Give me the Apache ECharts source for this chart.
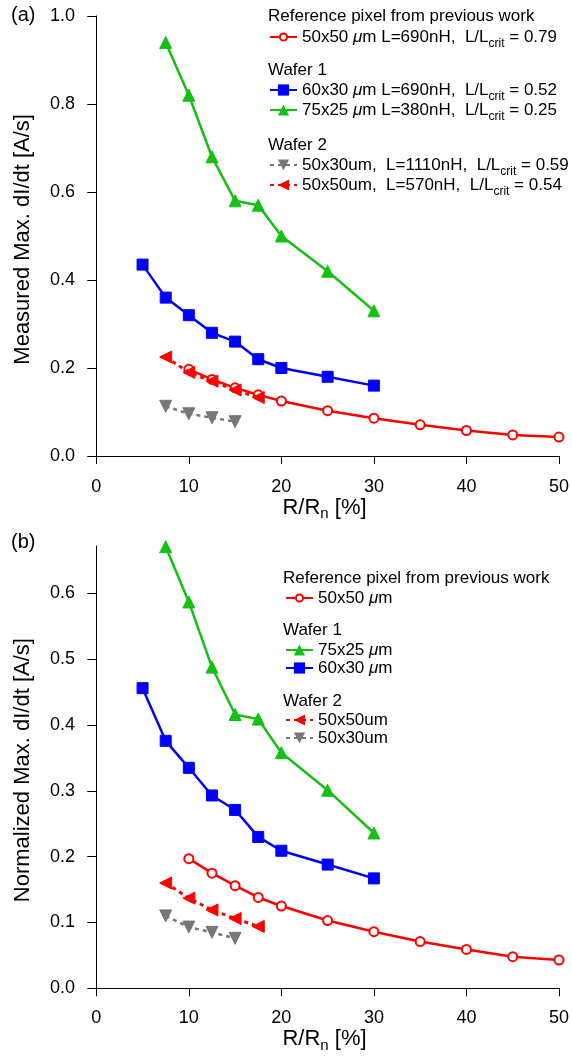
<!DOCTYPE html>
<html>
<head>
<meta charset="utf-8">
<script src="https://cdn.jsdelivr.net/npm/echarts@6/dist/echarts.min.js"></script>
<style>
html, body { margin: 0; padding: 0; background: #fff; }
#main { width: 572px; height: 1059px; }
</style>
</head>
<body>
<div id="main"></div>
<script>
// x positions, R/Rn [%]
const xRef = [10, 12.5, 15, 17.5, 20, 25, 30, 35, 40, 45, 50];
const xBlue = [5, 7.5, 10, 12.5, 15, 17.5, 20, 25, 30];
const xGreen = [7.5, 10, 12.5, 15, 17.5, 20, 25, 30];
const xRedDash = [7.5, 10, 12.5, 15, 17.5];
const xGray = [7.5, 10, 12.5, 15];

// (a) measured max dI/dt
const refA = [0.197, 0.174, 0.155, 0.139, 0.125, 0.103, 0.086, 0.071, 0.058, 0.048, 0.043];
const blueA = [0.435, 0.36, 0.32, 0.28, 0.26, 0.22, 0.20, 0.18, 0.16];
const greenA = [0.94, 0.82, 0.68, 0.58, 0.57, 0.50, 0.42, 0.33];
const redDashA = [0.225, 0.19, 0.17, 0.15, 0.133];
const grayA = [0.113, 0.096, 0.087, 0.078];

// (b) normalized max dI/dt
const refB = [0.197, 0.175, 0.156, 0.138, 0.125, 0.103, 0.086, 0.071, 0.059, 0.048, 0.043];
const blueB = [0.456, 0.376, 0.335, 0.293, 0.271, 0.230, 0.209, 0.188, 0.167];
const greenB = [0.671, 0.587, 0.488, 0.416, 0.409, 0.358, 0.301, 0.236];
const redDashB = [0.160, 0.137, 0.119, 0.106, 0.094];
const grayB = [0.110, 0.093, 0.085, 0.076];

const xTicks = [0, 10, 20, 30, 40, 50];
const yTicksA = [0, 0.2, 0.4, 0.6, 0.8, 1.0];
const yTicksB = [0, 0.1, 0.2, 0.3, 0.4, 0.5, 0.6];

const labels = {
  refA: '50x50 {i|μ}m L=690nH,  L/L{s|crit} = 0.79',
  blueA: '60x30 {i|μ}m L=690nH,  L/L{s|crit} = 0.52',
  greenA: '75x25 {i|μ}m L=380nH,  L/L{s|crit} = 0.25',
  grayA: '50x30um,  L=1110nH,  L/L{s|crit} = 0.59',
  redDashA: '50x50um,  L=570nH,  L/L{s|crit} = 0.54',
  refB: '50x50 {i|μ}m',
  greenB: '75x25 {i|μ}m',
  blueB: '60x30 {i|μ}m',
  redDashB: '50x50um',
  grayB: '50x30um'
};

const FONT = "'Liberation Sans', Arial, Helvetica, sans-serif";
const RED = '#ff0000', BLUE = '#0000ff', GREEN = '#14c014', GRAY = '#777777';

function zip(xs, ys) { return xs.map((x, i) => [x, ys[i]]); }

function xAxis(idx) {
  return {
    type: 'value', gridIndex: idx, min: -0.68, max: 50,
    name: 'R/R{s|n} [%]', nameLocation: 'middle', nameGap: 34,
    nameTextStyle: { fontFamily: FONT, fontSize: 22, color: '#000',
      rich: { s: { fontFamily: FONT, fontSize: 15, color: '#000', verticalAlign: 'bottom', padding: [0, 0, -3, 0] } } },
    axisLine: { show: true, lineStyle: { color: '#000', width: 1 } },
    axisTick: { show: true, length: 8, customValues: xTicks, lineStyle: { color: '#000' } },
    axisLabel: { customValues: xTicks, margin: 15, fontFamily: FONT, fontSize: 18, color: '#000' },
    splitLine: { show: false }
  };
}

function yAxis(idx, min, max, ticks, name) {
  return {
    type: 'value', gridIndex: idx, min: min, max: max,
    name: name, nameLocation: 'middle', nameGap: 56,
    nameTextStyle: { fontFamily: FONT, fontSize: 22, color: '#000' },
    axisLine: { show: true, lineStyle: { color: '#000', width: 1 } },
    axisTick: { show: true, length: 9, customValues: ticks, lineStyle: { color: '#000' } },
    axisLabel: { customValues: ticks, margin: 15, fontFamily: FONT, fontSize: 18, color: '#000',
      formatter: v => v.toFixed(1) },
    splitLine: { show: false }
  };
}

function line(name, idx, data, color, symbol, size, opts) {
  return Object.assign({
    name: name, type: 'line', xAxisIndex: idx, yAxisIndex: idx,
    data: data, symbol: symbol, symbolSize: size, clip: false,
    lineStyle: { color: color, width: 2.5 },
    itemStyle: { color: color, borderColor: color },
    emphasis: { disabled: true }, animation: false
  }, opts || {});
}

function legend(name, left, cy, h) {
  h = h || 14;
  return {
    data: [name], left: left, top: cy - 10, orient: 'vertical',
    padding: 0, itemGap: 0, itemWidth: 27, itemHeight: h,
    selectedMode: false,
    formatter: n => labels[n],
    textStyle: {
      fontFamily: FONT, fontSize: 17, color: '#000', lineHeight: 20,
      rich: {
        i: { fontFamily: FONT, fontSize: 17, fontStyle: 'italic', color: '#000', lineHeight: 20 },
        s: { fontFamily: FONT, fontSize: 12, color: '#000', verticalAlign: 'bottom', lineHeight: 20, padding: [0, 0, -3, 0] }
      }
    }
  };
}

function header(text, x, y) {
  return { type: 'text', left: x, top: y - 10,
    style: { text: text, font: '17px ' + FONT, fill: '#000' } };
}

const refStyle = { itemStyle: { color: RED, borderColor: RED, borderWidth: 2 }, z: 1 };

const chart = echarts.init(document.getElementById('main'));
chart.setOption({
  animation: false,
  grid: [
    { left: 90, top: 16, width: 470.7, height: 446.7 },
    { left: 90, top: 546, width: 470.7, height: 448.3 }
  ],
  xAxis: [xAxis(0), xAxis(1)],
  yAxis: [
    yAxis(0, -0.0152, 1.0, yTicksA, 'Measured Max. dI/dt [A/s]'),
    yAxis(1, -0.0091, 0.672, yTicksB, 'Normalized Max. dI/dt [A/s]')
  ],
  legend: [
    legend('refA', 269, 37, 9), legend('blueA', 269, 90), legend('greenA', 269, 110),
    legend('grayA', 269, 165), legend('redDashA', 269, 185),
    legend('refB', 285, 598, 9), legend('greenB', 285, 650), legend('blueB', 285, 668),
    legend('redDashB', 285, 720), legend('grayB', 285, 738)
  ],
  graphic: [
    { type: 'text', left: 11, top: 5, style: { text: '(a)', font: '20px ' + FONT, fill: '#000' } },
    { type: 'text', left: 11, top: 532, style: { text: '(b)', font: '20px ' + FONT, fill: '#000' } },
    header('Reference pixel from previous work', 268, 18),
    header('Wafer 1', 268, 72),
    header('Wafer 2', 268, 147),
    header('Reference pixel from previous work', 283, 580),
    header('Wafer 1', 283, 632),
    header('Wafer 2', 283, 703)
  ],
  series: [
    line('refA', 0, zip(xRef, refA), RED, 'emptyCircle', 9, refStyle),
    line('blueA', 0, zip(xBlue, blueA), BLUE, 'rect', 11),
    line('greenA', 0, zip(xGreen, greenA), GREEN, 'triangle', 12),
    line('grayA', 0, zip(xGray, grayA), GRAY, 'triangle', 12, { symbolRotate: 180, lineStyle: { color: GRAY, width: 2.5, type: [4, 4] } }),
    line('redDashA', 0, zip(xRedDash, redDashA), RED, 'triangle', 12, { symbolRotate: 90, lineStyle: { color: RED, width: 3, type: [4, 4] } }),

    line('refB', 1, zip(xRef, refB), RED, 'emptyCircle', 9, refStyle),
    line('blueB', 1, zip(xBlue, blueB), BLUE, 'rect', 11),
    line('greenB', 1, zip(xGreen, greenB), GREEN, 'triangle', 12),
    line('grayB', 1, zip(xGray, grayB), GRAY, 'triangle', 12, { symbolRotate: 180, lineStyle: { color: GRAY, width: 2.5, type: [4, 4] } }),
    line('redDashB', 1, zip(xRedDash, redDashB), RED, 'triangle', 12, { symbolRotate: 90, lineStyle: { color: RED, width: 3, type: [4, 4] } })
  ]
});
</script>
</body>
</html>
